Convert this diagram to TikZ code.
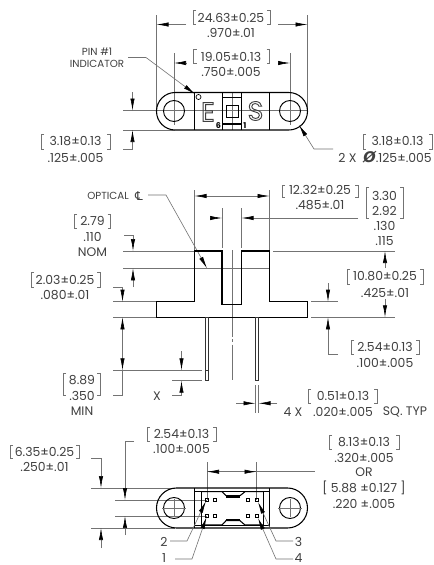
\documentclass[tikz,border=0pt]{standalone}
\usepackage{fontspec}
\setmainfont{Poppins}
\newfontfamily\dvfont{DejaVu Sans}
\usetikzlibrary{arrows.meta}
\definecolor{ink}{gray}{0.25}
\definecolor{thin}{gray}{0.45}
\tikzset{
 txt/.style={font=\fontsize{9.3}{10}\selectfont,text=ink,inner sep=0pt,anchor=center},
 small/.style={font=\fontsize{7.7}{8}\selectfont,text=ink,inner sep=0pt,anchor=center},
 obj/.style={draw=black,line width=0.8pt},
 dimln/.style={draw=thin,line width=0.45pt},
 brk/.style={draw=thin,line width=0.5pt},
 arr/.style={-{Latex[black,length=9pt,width=3.2pt]}},
 both/.style={{Latex[black,length=9pt,width=3.2pt]}-{Latex[black,length=9pt,width=3.2pt]}},
 cl/.style={draw=thin,line width=0.45pt},
 fine/.style={draw=black,line width=0.7pt}
}
\newcommand\brkts[4]{%
 \draw[brk] (#1+3,#3) -- (#1,#3) -- (#1,#4) -- (#1+3,#4);
 \draw[brk] (#2-3,#3) -- (#2,#3) -- (#2,#4) -- (#2-3,#4);}
\begin{document}
\begin{tikzpicture}[x=0.75pt,y=-0.75pt]
\useasboundingbox (0,0) rectangle (433,565);
\fill[white] (0,0) rectangle (433,565);
%%% TOP VIEW
\draw[dimln] (156.5,15) -- (156.5,110);
\draw[dimln] (307.5,15) -- (307.5,110);
\draw[dimln] (174,53) -- (174,125);
\draw[dimln] (290,53) -- (290,125);
\draw[dimln] (123,110.5) -- (307.5,110.5);
\draw[dimln] (123,130) -- (175,130);
\draw[dimln] (232,92) -- (232,130);
\draw[dimln,arr] (186,24.5) -- (156.5,24.5);
\draw[dimln,arr] (278,24.5) -- (307.5,24.5);
\draw[dimln,arr] (186,63) -- (174,63);
\draw[dimln,arr] (278,63) -- (290,63);
\draw[dimln,arr] (132.5,92) -- (132.5,110.5);
\draw[dimln,arr] (123,149) -- (132.5,149) -- (132.5,130);
\draw[dimln,arr] (128,57.5) -- (146,57.5) -- (195,94);
\draw[dimln,arr] (333,149) -- (314,149) -- (299,125);
\draw[obj,rounded corners=14pt] (156.5,92.5) rectangle (307.5,130);
\draw[obj] (194.5,92.5) -- (194.5,130);
\draw[obj] (269.5,92.5) -- (269.5,130);
\draw[obj,line width=0.6pt] (222.5,92.5) -- (222.5,130);
\draw[obj,line width=0.6pt] (241.5,92.5) -- (241.5,130);
\draw[obj] (222.5,97.5) rectangle (241.5,124);
\draw[fine] (226,105) rectangle (238,117);
\draw[fine] (174,111) circle (10.5);
\draw[fine] (290,111) circle (10.5);
\draw[fine,line width=0.5pt] (198.5,97) circle (2.5);
\node[inner sep=0pt,text=black!75,font=\fontsize{20}{21}\selectfont] (letE) at (208,112) {\special{pdf:code 1 Tr 0.7 w}E\special{pdf:code 0 Tr}};
\node[inner sep=0pt,text=black!75,font=\fontsize{20}{21}\selectfont] (letS) at (255.5,111) {\special{pdf:code 1 Tr 0.7 w}S\special{pdf:code 0 Tr}};
\node[inner sep=0pt,font=\bfseries\fontsize{6}{6}\selectfont] (six) at (218.5,126) {6};
\node[inner sep=0pt,font=\bfseries\fontsize{6}{6}\selectfont] (one) at (245,126) {1};
\brkts{193}{270}{10}{24}
\node[txt] (a1) at (231,18) {24.63±0.25};
\node[txt] (a2) at (231,33) {.970±.01};
\brkts{193.5}{269.5}{49}{63}
\node[txt] (b1) at (231,57) {19.05±0.13};
\node[txt] (b2) at (231,72) {.750±.005};
\node[small] (pin1) at (97,52) {PIN \#1};
\node[small] (pin2) at (97,63.5) {INDICATOR};
\brkts{41}{110}{134}{149}
\node[txt] (c1) at (75.5,141.5) {3.18±0.13};
\node[txt] (c2) at (75.5,157.5) {.125±.005};
\brkts{363}{432}{134}{149}
\node[txt] (d1) at (397.5,141.5) {3.18±0.13};
\node[txt,anchor=east] (d2) at (432,157.5) {2 X\hspace{5pt}{\dvfont\bfseries\itshape\fontsize{11}{11}\selectfont Ø}.125±.005};
%%% SIDE VIEW
\draw[dimln] (194.5,190) -- (194.5,250);
\draw[dimln] (269.5,190) -- (269.5,250);
\draw[dimln] (222,208) -- (222,248);
\draw[dimln] (241.5,208) -- (241.5,248);
\draw[dimln] (123,251) -- (194,251);
\draw[dimln] (273,251) -- (395,251);
\draw[dimln] (123,268.3) -- (269.5,268.3);
\draw[dimln] (113,301.7) -- (156,301.7);
\draw[dimln] (311,301.7) -- (338,301.7);
\draw[dimln] (113,317.3) -- (156,317.3);
\draw[dimln] (311,317.3) -- (395,317.3);
\draw[dimln] (113,370.3) -- (202,370.3);
\draw[dimln] (172,380.7) -- (202,380.7);
\draw[cl,dash pattern=on 65pt off 2pt on 2pt off 2pt on 40pt] (232,250) -- (232,380);
\draw[dimln,both] (194.5,196) -- (269.5,196);
\draw[dimln,arr] (210,218) -- (222,218);
\draw[dimln,arr] (358,218) -- (241.5,218);
\draw[dimln,arr] (124,235.5) -- (133,235.5) -- (133,251);
\draw[dimln,arr] (133,287) -- (133,268.3);
\draw[dimln,arr] (113,287) -- (122.5,287) -- (122.5,301.7);
\draw[dimln,both] (122.5,317.3) -- (122.5,370.3);
\draw[dimln] (122.5,370) -- (122.5,395) -- (113,395);
\draw[dimln,arr] (181.5,351) -- (181.5,370.3);
\draw[dimln,arr] (172,395) -- (181.5,395) -- (181.5,380.7);
\draw[dimln,arr] (385,268) -- (385,251);
\draw[dimln,arr] (385,299) -- (385,317.3);
\draw[dimln,arr] (328,283) -- (328,301.7);
\draw[dimln,arr] (338,354) -- (328,354) -- (328,317.3);
\draw[dimln,arr] (148,195) -- (166,195) -- (207,268.3);
\draw[dimln] (255.5,385) -- (255.5,413);
\draw[dimln] (258.5,385) -- (258.5,413);
\draw[dimln,arr] (236,403.3) -- (255.5,403.3);
\draw[dimln,arr] (277,403.3) -- (258.5,403.3);
\draw[obj] (156.5,301.7) -- (194.5,301.7) -- (194.5,251) -- (222,251) -- (222,304.5) -- (241.5,304.5) -- (241.5,251) -- (269.5,251) -- (269.5,301.7) -- (307.5,301.7) -- (307.5,317.3) -- (156.5,317.3) -- cycle;
\draw[draw=black!80,line width=0.55pt] (205.8,317.3) rectangle (208.8,380.7);
\draw[draw=black!80,line width=0.55pt] (205.8,370.3) -- (208.8,370.3);
\draw[draw=black!80,line width=0.55pt] (255.5,317.3) rectangle (258.5,380.7);
\node[small] (opt) at (108,196) {OPTICAL};
\node[inner sep=0pt,text=ink,font=\dvfont\fontsize{9}{10}\selectfont] (clsym) at (139,196) {℄};
\brkts{282}{358}{185}{197}
\node[txt] (e1) at (320,189.5) {12.32±0.25};
\node[txt] (e2) at (320,205) {.485±.01};
\brkts{366}{403}{187}{218}
\node[txt] (f1) at (384.5,195.5) {3.30};
\node[txt] (f2) at (384.5,210.5) {2.92};
\node[txt] (f3) at (384.5,226) {.130};
\node[txt] (f4) at (384.5,241) {.115};
\brkts{74}{110.5}{214}{228}
\node[txt] (g1) at (92.5,221) {2.79};
\node[txt] (g2) at (92.5,237) {.110};
\node[txt] (g3) at (92.5,252) {NOM};
\brkts{31}{100}{272}{287}
\node[txt] (h1) at (65,280) {2.03±0.25};
\node[txt] (h2) at (65,295.5) {.080±.01};
\brkts{347}{423}{269}{284}
\node[txt] (i1) at (385,276.5) {10.80±0.25};
\node[txt] (i2) at (385,292.5) {.425±.01};
\brkts{351}{419}{340}{354}
\node[txt] (j1) at (385,347) {2.54±0.13};
\node[txt] (j2) at (385,362.5) {.100±.005};
\brkts{63}{100}{373}{395}
\node[txt] (k1) at (82,380) {8.89};
\node[txt] (k2) at (82,396) {.350};
\node[txt] (k3) at (82,411.5) {MIN};
\node[txt] (xl) at (157,396) {X};
\brkts{308}{377}{389}{403}
\node[txt] (l1) at (343,396) {0.51±0.13};
\node[txt] (l2) at (293,412) {4 X};
\node[txt] (l3) at (343,412) {.020±.005};
\node[txt] (l4) at (405,412) {SQ. TYP};
%%% BOTTOM VIEW
\draw[dimln] (91,488) -- (175,488);
\draw[dimln] (91,528) -- (175,528);
\draw[dimln] (115,500) -- (207,500);
\draw[dimln] (115,516) -- (207,516);
\draw[dimln] (207,462) -- (207,500);
\draw[dimln] (256.5,462) -- (256.5,500);
\draw[dimln] (207,471.7) -- (315,471.7);
\draw[dimln,arr] (220,471.7) -- (207,471.7);
\draw[dimln,arr] (244,471.7) -- (256.5,471.7);
\draw[dimln,arr] (91,458.5) -- (101,458.5) -- (101,488);
\draw[dimln,arr] (101,548) -- (101,528);
\draw[dimln,arr] (134,441) -- (125,441) -- (125,500);
\draw[dimln,arr] (125,535) -- (125,516);
\draw[obj,rounded corners=15pt] (156.5,488) rectangle (307.5,528);
\draw[draw=black,line width=0.5pt] (194.5,491.7) rectangle (269.5,525);
\draw[draw=black,line width=0.6pt] (201.5,491.7) -- (201.5,525);
\draw[draw=black,line width=0.6pt] (263,491.7) -- (263,525);
\draw[obj] (194.5,488) -- (194.5,528);
\draw[obj] (269.5,488) -- (269.5,528);
\draw[obj] (201.5,491.7) -- (222,491.7) -- (226,495.7) -- (240,495.7) -- (245,491.7) -- (263,491.7);
\draw[obj] (201.5,525) -- (222,525) -- (226,520.7) -- (240,520.7) -- (245,525) -- (263,525);
\fill[black] (226,495.7) rectangle (240,497.7);
\fill[black] (226,519) rectangle (240,520.7);
\foreach \px in {205,213,246,255}{\foreach \py in {498,514}{
 \draw[draw=black,line width=0.6pt] (\px,\py) rectangle ++(3.8,3.8);}}
\foreach \hx in {174,290}{
 \draw[fine] (\hx,508) circle (10.5);
 \draw[dimln] (\hx-12,508) -- (\hx+12,508);
 \draw[dimln] (\hx,499) -- (\hx,517);}
\draw[dimln,arr] (170,541) -- (187,541) -- (206,501);
\draw[dimln,arr] (175,559) -- (192,559) -- (206.5,517);
\draw[dimln,arr] (293,541) -- (276,541) -- (258,502);
\draw[dimln,arr] (293,559) -- (276,559) -- (258,518);
\node[txt] (n2) at (164,541.5) {2};
\node[txt] (n1) at (164,558.5) {1};
\node[txt] (n3) at (298.5,541.5) {3};
\node[txt] (n4) at (298.5,558.5) {4};
\brkts{147}{216}{427}{441}
\node[txt] (m1) at (181.5,434) {2.54±0.13};
\node[txt] (m2) at (181.5,449) {.100±.005};
\brkts{10}{79}{445}{458.5}
\node[txt] (o1) at (44.5,452) {6.35±0.25};
\node[txt] (o2) at (44.5,466.5) {.250±.01};
\brkts{329}{399}{435}{449}
\node[txt] (p1) at (364,442) {8.13±0.13};
\node[txt] (p2) at (364,457.5) {.320±.005};
\node[txt] (p3) at (364,472.5) {OR};
\node[txt] (p4) at (364,488) {[ 5.88 ±0.127 ]};
\node[txt] (p5) at (364,504) {.220 ±.005};
\end{tikzpicture}
\end{document}
